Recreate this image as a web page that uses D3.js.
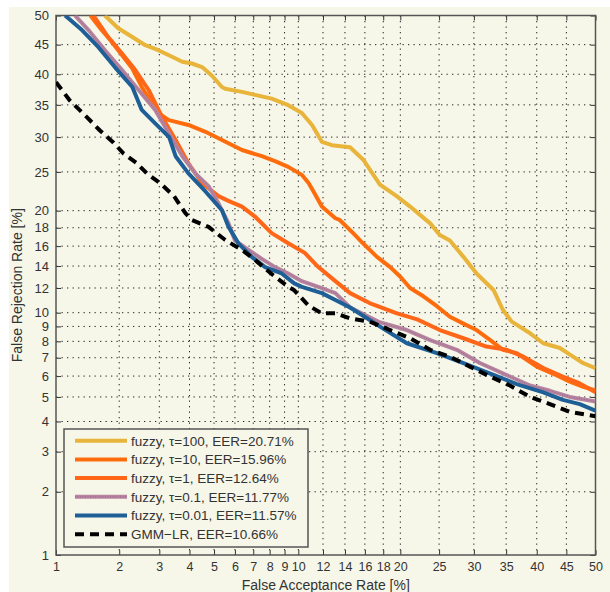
<!DOCTYPE html>
<html><head><meta charset="utf-8">
<script src="https://cdn.jsdelivr.net/npm/d3@7"></script>
<style>
html,body{margin:0;padding:0;background:#fff;}
svg{display:block;}
text{font-family:"Liberation Sans",Arial,sans-serif;}
</style></head>
<body>
<svg id="chart" width="610" height="592"></svg>
<script>
// ---------- data (percent values) ----------
const tickValues = [1,2,3,4,5,6,7,8,9,10,12,14,16,18,20,25,30,35,40,45,50];

const seriesNames = [
  "fuzzy, \u03c4=100, EER=20.71%",
  "fuzzy, \u03c4=10, EER=15.96%",
  "fuzzy, \u03c4=1, EER=12.64%",
  "fuzzy, \u03c4=0.1, EER=11.77%",
  "fuzzy, \u03c4=0.01, EER=11.57%",
  "GMM\u2212LR, EER=10.66%"
];

const tau100FAR = [1.72,1.98,2.29,2.61,2.97,3.41,3.74,4.09,4.49,4.9,5.36,5.52,6.37,7.1,8.13,9.26,10.27,11.08,11.9,12.78,14.49,15.83,17.63,19.56,21.2,22.5,23.8,25.1,26.5,28.45,30.4,33,34.5,35.9,38.9,41.1,43.9,46.2,47.9,50];
const tau100FRR = [50,47.8,46.3,44.9,44.05,42.9,42.1,41.8,41.2,39.8,37.9,37.6,37.1,36.6,36.0,34.95,33.7,31.85,29.3,28.8,28.5,26.7,23.3,21.8,20.5,19.47,18.5,17.2,16.6,14.9,13.3,11.83,10.2,9.34,8.53,7.88,7.58,7.05,6.69,6.42];

const tau10FAR = [1.47,1.66,1.82,1.98,2.29,2.52,2.79,2.97,3.29,3.96,4.63,5.36,6.37,7.51,8.35,9.26,10.27,10.8,11.2,11.9,13.1,13.5,14.8,15.8,17.3,18.8,20,21.2,22.9,24.7,26.5,28.45,30.4,32.5,34.5,36.7,40,43.3,45.6,47.9,50];
const tau10FRR = [50,47.5,45.8,44.05,40.96,37.9,35.2,33.7,32.6,31.85,30.8,29.56,28.1,27.2,26.5,25.7,24.6,23.5,22.4,20.5,19.1,18.9,17.4,16.3,14.9,13.9,13.0,12.0,11.3,10.5,9.7,9.2,8.75,8.08,7.47,7.27,6.5,6.05,5.72,5.47,5.3];

const tau1FAR = [1.52,1.78,2.06,2.36,2.7,3.08,3.51,3.96,4.49,5.2,5.67,6.37,7.1,8.13,9.26,10.5,11.6,13.1,14.5,16.5,19.6,22.1,25.1,28.45,31.9,35.1,37.8,41.1,44.4,47.3,50];
const tau1FRR = [50,46.3,43.5,40.7,37.4,33.1,29.56,26.2,23.5,21.8,21.2,20.5,19.3,17.4,16.3,15.3,13.9,12.6,11.56,10.75,9.95,9.5,8.75,8.2,7.67,7.47,7.06,6.42,5.97,5.63,5.21];

const tau01FAR = [1.24,1.44,1.72,2.06,2.44,2.88,3.3,3.74,4.22,4.76,5.2,5.68,6.0,6.73,7.51,8.35,9.26,10.27,11.6,13.1,14.5,17.6,20.8,23.8,27.5,30.9,35.1,38.9,42.2,45.6,50];
const tau01FRR = [50,47.5,44.05,40.7,37.4,34.2,30.5,27.2,24.8,23.1,20.9,18.5,16.6,15.6,14.7,13.9,13.3,12.6,12.1,11.56,10.4,9.3,8.75,8.08,7.47,6.7,6.05,5.53,5.28,5.0,4.8];

const tau001FAR = [1.11,1.34,1.6,1.91,2.29,2.52,2.88,3.3,3.51,3.96,4.63,5.36,5.68,6.18,6.91,7.71,8.8,9.7,10.27,11.9,13.1,14.5,17.6,20.8,24.7,28.45,32.5,36.7,41.1,44.4,47.3,50];
const tau001FRR = [50,47.5,44.6,41.2,37.9,34.2,32.1,30.0,27.2,24.8,22.4,20.05,18.1,16.3,14.9,13.9,13.3,12.4,12.1,11.56,11.0,10.4,9.0,7.88,7.27,6.7,6.13,5.6,5.21,4.87,4.69,4.42];

const gmmFAR = [1.0,1.17,1.41,1.63,1.88,2.09,2.4,2.65,3.02,3.46,3.85,4.09,4.76,5.52,6.37,7.1,8.13,9.26,9.7,10.8,11.9,13.1,14.5,16.5,18.8,21.2,23.8,26.5,29.4,32.5,35.6,38.9,42.2,45.6,50];
const gmmFRR = [38.7,35.7,33.1,31.0,29.2,27.6,26.2,24.8,23.5,21.8,19.7,18.9,18.1,16.65,15.6,14.6,13.25,12.1,11.8,10.55,9.95,9.95,9.58,9.34,8.75,8.2,7.47,7.06,6.5,5.97,5.53,5.0,4.69,4.37,4.2];

// ---------- helpers ----------
function probit(p){ // inverse standard normal CDF (Acklam)
  const a=[-3.969683028665376e+01,2.209460984245205e+02,-2.759285104469687e+02,1.383577518672690e+02,-3.066479806614716e+01,2.506628277459239e+00];
  const b=[-5.447609879822406e+01,1.615858368580409e+02,-1.556989798598866e+02,6.680131188771972e+01,-1.328068155288572e+01];
  const c=[-7.784894002430293e-03,-3.223964580411365e-01,-2.400758277161838e+00,-2.549732539343734e+00,4.374664141464968e+00,2.938163982698783e+00];
  const d=[7.784695709041462e-03,3.224671290700398e-01,2.445134137142996e+00,3.754408661907416e+00];
  const pl=0.02425, ph=1-pl; let q,r;
  if(p<pl){q=Math.sqrt(-2*Math.log(p));return (((((c[0]*q+c[1])*q+c[2])*q+c[3])*q+c[4])*q+c[5])/((((d[0]*q+d[1])*q+d[2])*q+d[3])*q+1);}
  if(p<=ph){q=p-0.5;r=q*q;return (((((a[0]*r+a[1])*r+a[2])*r+a[3])*r+a[4])*r+a[5])*q/(((((b[0]*r+b[1])*r+b[2])*r+b[3])*r+b[4])*r+1);}
  q=Math.sqrt(-2*Math.log(1-p));return -(((((c[0]*q+c[1])*q+c[2])*q+c[3])*q+c[4])*q+c[5])/((((d[0]*q+d[1])*q+d[2])*q+d[3])*q+1);
}
// normal-deviate (DET) scale built on a d3 linear scale
function detScale(range){
  const lin = d3.scaleLinear().domain([probit(0.01), probit(0.5)]).range(range);
  const s = v => lin(probit(v/100));
  s.domain = () => [1,50];
  s.range = () => lin.range();
  s.copy = () => detScale(range);
  return s;
}

const L=56, R=595.5, T=15.5, B=555;
const x = detScale([L,R]);
const y = detScale([B,T]);

const svg = d3.select("#chart");
const bg = "#f7f7e9";
svg.append("rect").attr("x",9).attr("y",7).attr("width",601).attr("height",585).attr("fill",bg);

// clip
svg.append("defs").append("clipPath").attr("id","clip")
  .append("rect").attr("x",L).attr("y",T).attr("width",R-L).attr("height",B-T);

// grid
const grid = svg.append("g").attr("stroke","#222").attr("stroke-width",1).attr("stroke-dasharray","1.3,4.2");
tickValues.slice(1,-1).forEach(v=>{
  grid.append("line").attr("x1",x(v)).attr("x2",x(v)).attr("y1",T).attr("y2",B);
  grid.append("line").attr("y1",y(v)).attr("y2",y(v)).attr("x1",L).attr("x2",R);
});

// axes (inward ticks on all four sides)
const fmt = d3.format("d");
const axB = svg.append("g").attr("transform",`translate(0,${B})`)
  .call(d3.axisBottom(x).tickValues(tickValues).tickFormat(fmt).tickSize(-5).tickSizeOuter(0).tickPadding(7.5));
const axT = svg.append("g").attr("transform",`translate(0,${T})`)
  .call(d3.axisTop(x).tickValues(tickValues).tickFormat("").tickSize(-5).tickSizeOuter(0));
const axL = svg.append("g").attr("transform",`translate(${L},0)`)
  .call(d3.axisLeft(y).tickValues(tickValues).tickFormat(fmt).tickSize(-5).tickSizeOuter(0).tickPadding(7));
const axRt = svg.append("g").attr("transform",`translate(${R},0)`)
  .call(d3.axisRight(y).tickValues(tickValues).tickFormat("").tickSize(-5).tickSizeOuter(0));
[axB,axT,axL,axRt].forEach(g=>{
  g.select(".domain").remove();
  g.selectAll(".tick line").attr("stroke","#333").attr("stroke-width",1);
  g.selectAll(".tick text").attr("fill","#333").style("font-size","12.5px").style("font-family","'Liberation Sans',Arial,sans-serif");
});
axL.selectAll(".tick text").style("font-size","13px");
// frame
svg.append("rect").attr("x",L).attr("y",T).attr("width",R-L).attr("height",B-T)
  .attr("fill","none").attr("stroke","#555").attr("stroke-width",1.5);

// axis titles
svg.append("text").attr("x",(L+R)/2).attr("y",589.5).attr("text-anchor","middle")
  .attr("fill","#333").style("font-size","14px").text("False Acceptance Rate [%]");
svg.append("text").attr("transform",`translate(22,${(T+B)/2}) rotate(-90)`).attr("text-anchor","middle")
  .attr("fill","#333").style("font-size","14px").text("False Rejection Rate [%]");

// series
const series = [
  {name:seriesNames[0], fx:tau100FAR, fy:tau100FRR, color:"#e8b43a", w:4},
  {name:seriesNames[1], fx:tau10FAR, fy:tau10FRR, color:"#ff6e0e", w:4, over:"#f25a00"},
  {name:seriesNames[2], fx:tau1FAR, fy:tau1FRR, color:"#ff6618", w:4},
  {name:seriesNames[3], fx:tau01FAR, fy:tau01FRR, color:"#b7849f", w:4, over:"#8d5a8f"},
  {name:seriesNames[4], fx:tau001FAR, fy:tau001FRR, color:"#1d5f96", w:4},
  {name:seriesNames[5], fx:gmmFAR, fy:gmmFRR, color:"#000", w:4, dash:"9,6"}
];
const line = d3.line().x(d=>x(d[0])).y(d=>y(d[1]));
const plot = svg.append("g").attr("clip-path","url(#clip)");
series.forEach(s=>{
  const pts = s.fx.map((v,i)=>[v,s.fy[i]]);
  plot.append("path").attr("d",line(pts)).attr("fill","none").attr("stroke",s.color)
    .attr("stroke-width",s.w).attr("stroke-linejoin","round")
    .attr("stroke-dasharray",s.dash||null);
  if(s.over) plot.append("path").attr("d",line(pts)).attr("fill","none").attr("stroke",s.over)
    .attr("stroke-width",1).attr("stroke-dasharray","1,1.5").attr("opacity",0.7);
});

// legend
const lg = svg.append("g");
lg.append("rect").attr("x",64).attr("y",429).attr("width",244).attr("height",118)
  .attr("fill",bg).attr("stroke","#555").attr("stroke-width",1.5);
series.forEach((s,i)=>{
  const yy = 440.7 + i*18.7;
  lg.append("line").attr("x1",75).attr("x2",127).attr("y1",yy).attr("y2",yy)
    .attr("stroke",s.color).attr("stroke-width",s.w).attr("stroke-dasharray",s.dash||null);
  if(s.over) lg.append("line").attr("x1",75).attr("x2",127).attr("y1",yy).attr("y2",yy)
    .attr("stroke",s.over).attr("stroke-width",1).attr("stroke-dasharray","1,1.5").attr("opacity",0.7);
  lg.append("text").attr("x",131).attr("y",yy+4.8).attr("fill","#333")
    .style("font-size","13.5px").text(s.name);
});
</script>
</body></html>
